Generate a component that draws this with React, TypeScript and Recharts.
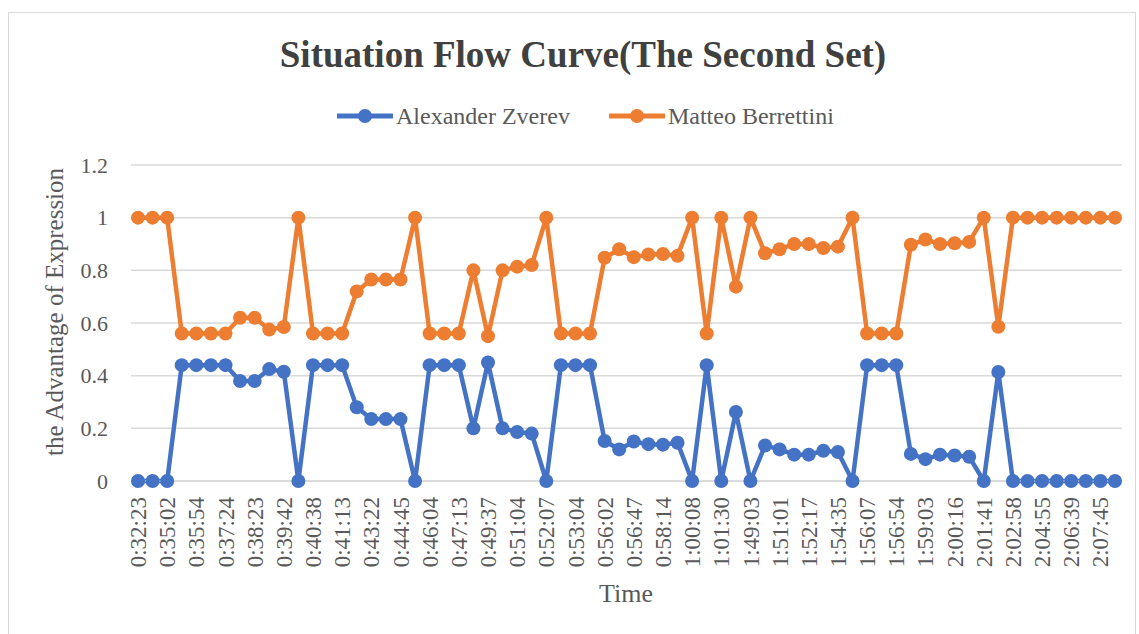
import React from "react";
import { LineChart, Line, XAxis, YAxis, CartesianGrid, Legend } from "recharts";

const tickLabels = [
  "0:32:23", "0:35:02", "0:35:54", "0:37:24", "0:38:23", "0:39:42", "0:40:38", "0:41:13",
  "0:43:22", "0:44:45", "0:46:04", "0:47:13", "0:49:37", "0:51:04", "0:52:07", "0:53:04",
  "0:56:02", "0:56:47", "0:58:14", "1:00:08", "1:01:30", "1:49:03", "1:51:01", "1:52:17",
  "1:54:35", "1:56:07", "1:56:54", "1:59:03", "2:00:16", "2:01:41", "2:02:58", "2:04:55",
  "2:06:39", "2:07:45",
];

const zverev = [
  0, 0, 0, 0.44, 0.44, 0.44, 0.44, 0.38, 0.38, 0.425, 0.415, 0, 0.44, 0.44, 0.44, 0.28,
  0.235, 0.235, 0.235, 0, 0.44, 0.44, 0.44, 0.2, 0.45, 0.2, 0.186, 0.18, 0, 0.44, 0.44, 0.44,
  0.152, 0.12, 0.15, 0.14, 0.138, 0.145, 0, 0.44, 0, 0.262, 0, 0.135, 0.12, 0.1, 0.1, 0.115,
  0.11, 0, 0.44, 0.44, 0.44, 0.103, 0.083, 0.1, 0.097, 0.092, 0, 0.414, 0, 0, 0, 0, 0, 0, 0, 0,
];

const berrettini = [
  1, 1, 1, 0.56, 0.56, 0.56, 0.56, 0.62, 0.62, 0.575, 0.585, 1, 0.56, 0.56, 0.56, 0.72,
  0.765, 0.765, 0.765, 1, 0.56, 0.56, 0.56, 0.8, 0.55, 0.8, 0.814, 0.82, 1, 0.56, 0.56, 0.56,
  0.848, 0.88, 0.85, 0.86, 0.862, 0.855, 1, 0.56, 1, 0.738, 1, 0.865, 0.88, 0.9, 0.9, 0.885,
  0.89, 1, 0.56, 0.56, 0.56, 0.897, 0.917, 0.9, 0.903, 0.908, 1, 0.586, 1, 1, 1, 1, 1, 1, 1, 1,
];

const yTicks = [0, 0.2, 0.4, 0.6, 0.8, 1, 1.2];

const data = zverev.map((z, i) => ({
  time: i % 2 === 0 ? tickLabels[i / 2] : "",
  idx: i,
  zverev: z,
  berrettini: berrettini[i],
}));

const FONT = '"Liberation Serif", "Times New Roman", serif';
const BLUE = "#4472C4";
const ORANGE = "#ED7D31";
const TEXT = "#595959";

const XTick = (props: any) => {
  const { x, payload } = props;
  const label = data[payload.index]?.time ?? "";
  if (!label) return null;
  return (
    <text
      transform={`translate(${x},497) rotate(-90)`}
      textAnchor="end"
      dy="0.35em"
      fontFamily={FONT}
      fontSize={23}
      fill={TEXT}
    >
      {label}
    </text>
  );
};

const LegendContent = () => {
  const items = [
    { name: "Alexander Zverev", color: BLUE },
    { name: "Matteo Berrettini", color: ORANGE },
  ];
  return (
    <div style={{ display: "flex", alignItems: "center", fontFamily: FONT, fontSize: 24, color: TEXT }}>
      {items.map((it, k) => (
        <div key={it.name} style={{ display: "flex", alignItems: "center", marginLeft: k === 0 ? 0 : 39 }}>
          <svg width={56} height={16} style={{ marginRight: 3 }}>
            <line x1={1} y1={8} x2={55} y2={8} stroke={it.color} strokeWidth={5} strokeLinecap="round" />
            <circle cx={28} cy={8} r={7} fill={it.color} />
          </svg>
          <span style={{ lineHeight: "24px" }}>{it.name}</span>
        </div>
      ))}
    </div>
  );
};

export default function App() {
  return (
    <div style={{ position: "absolute", left: 0, top: 0, width: 1139, height: 634, background: "#fff", overflow: "hidden" }}>
      <div
        style={{
          position: "absolute",
          left: 8,
          top: 12,
          width: 1128,
          height: 640,
          border: "1.5px solid #d9d9d9",
          boxSizing: "border-box",
        }}
      />
      <div
        style={{
          position: "absolute",
          left: 0,
          width: 1166,
          top: 36,
          textAlign: "center",
          fontFamily: FONT,
          fontWeight: "bold",
          fontSize: 37,
          lineHeight: "37px",
          color: "#404040",
          whiteSpace: "nowrap",
        }}
      >
        Situation Flow Curve(The Second Set)
      </div>
      <LineChart
        width={1139}
        height={634}
        data={data}
        margin={{ top: 165, right: 17, bottom: 0, left: 0 }}
        style={{ position: "absolute", left: 0, top: 0 }}
      >
        <CartesianGrid horizontal vertical={false} stroke="#d9d9d9" strokeWidth={1.5} />
        <XAxis
          dataKey="idx"
          type="category"
          height={153}
          interval={0}
          padding={{ left: 7, right: 7 }}
          tickLine={false}
          axisLine={{ stroke: "#d9d9d9", strokeWidth: 1.5 }}
          tick={<XTick />}
          label={{
            content: () => (
              <text x={626} y={602} textAnchor="middle" fontFamily={FONT} fontSize={26} fill={TEXT}>
                Time
              </text>
            ),
          }}
        />
        <YAxis
          width={131}
          domain={[0, 1.2]}
          ticks={yTicks}
          tickLine={false}
          axisLine={false}
          tickMargin={17}
          tick={{ fontFamily: FONT, fontSize: 22, fill: TEXT }}
          label={{
            content: () => (
              <text
                transform="translate(63,312) rotate(-90)"
                textAnchor="middle"
                fontFamily={FONT}
                fontSize={25}
                fill={TEXT}
              >
                the Advantage of Expression
              </text>
            ),
          }}
        />
        <Legend
          verticalAlign="middle"
          align="center"
          layout="horizontal"
          content={<LegendContent />}
          wrapperStyle={{ left: 337, top: 104, width: 560, height: 24 }}
        />
        <Line
          dataKey="zverev"
          name="Alexander Zverev"
          stroke={BLUE}
          strokeWidth={4.5}
          dot={{ r: 7, fill: BLUE, stroke: BLUE, strokeWidth: 0 }}
          activeDot={false}
          isAnimationActive={false}
        />
        <Line
          dataKey="berrettini"
          name="Matteo Berrettini"
          stroke={ORANGE}
          strokeWidth={4.5}
          dot={{ r: 7, fill: ORANGE, stroke: ORANGE, strokeWidth: 0 }}
          activeDot={false}
          isAnimationActive={false}
        />
      </LineChart>
    </div>
  );
}
